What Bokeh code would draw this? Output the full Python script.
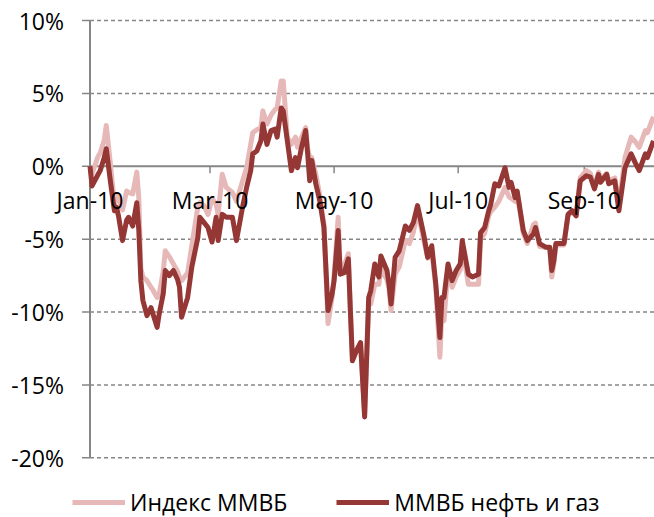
import math
import pandas as pd
from bokeh.plotting import figure
from bokeh.models import Range1d, Legend, LegendItem, ColumnDataSource
from bokeh.core.properties import value
from bokeh.embed import file_html
from bokeh.resources import INLINE

dates = ["2010-01-01","2010-01-02","2010-01-05","2010-01-06","2010-01-08","2010-01-09","2010-01-11",
 "2010-01-13","2010-01-14","2010-01-15","2010-01-17","2010-01-19","2010-01-20","2010-01-22","2010-01-24",
 "2010-01-25","2010-01-26","2010-01-27","2010-01-29","2010-01-31","2010-02-01","2010-02-03","2010-02-04",
 "2010-02-06","2010-02-07","2010-02-09","2010-02-11","2010-02-13","2010-02-14","2010-02-15","2010-02-18",
 "2010-02-20","2010-02-23","2010-02-24","2010-02-26","2010-02-28","2010-03-02","2010-03-04","2010-03-05",
 "2010-03-07","2010-03-09","2010-03-12","2010-03-14","2010-03-17","2010-03-19","2010-03-21","2010-03-22",
 "2010-03-24","2010-03-26","2010-03-27","2010-03-29","2010-03-31","2010-04-02","2010-04-03","2010-04-05",
 "2010-04-06","2010-04-08","2010-04-10","2010-04-12","2010-04-13","2010-04-15","2010-04-17","2010-04-18",
 "2010-04-19","2010-04-20","2010-04-22","2010-04-24","2010-04-26","2010-04-28","2010-04-30","2010-05-01",
 "2010-05-03","2010-05-04","2010-05-06","2010-05-08","2010-05-09","2010-05-10","2010-05-12","2010-05-14",
 "2010-05-16","2010-05-18","2010-05-19","2010-05-21","2010-05-23","2010-05-24","2010-05-27","2010-05-28",
 "2010-05-29","2010-05-31","2010-06-02","2010-06-05","2010-06-07","2010-06-09","2010-06-11","2010-06-14",
 "2010-06-16","2010-06-18","2010-06-20","2010-06-22","2010-06-23","2010-06-24","2010-06-26","2010-06-28",
 "2010-06-30","2010-07-02","2010-07-03","2010-07-06","2010-07-08","2010-07-11","2010-07-12","2010-07-14",
 "2010-07-16","2010-07-17","2010-07-19","2010-07-21","2010-07-24","2010-07-26","2010-07-27","2010-07-29",
 "2010-07-30","2010-08-02","2010-08-04","2010-08-07","2010-08-08","2010-08-10","2010-08-13","2010-08-15",
 "2010-08-16","2010-08-17","2010-08-18","2010-08-22","2010-08-24","2010-08-26","2010-08-28","2010-08-30",
 "2010-09-02","2010-09-04","2010-09-06","2010-09-08","2010-09-09","2010-09-12","2010-09-13","2010-09-16",
 "2010-09-18","2010-09-21","2010-09-24","2010-09-26","2010-09-28","2010-10-01","2010-10-02","2010-10-05"]

oil_gas = [0.0,-1.35,-0.55,-0.3,0.6,1.2,-1.0,
 -3.05,-2.8,-3.4,-5.1,-3.7,-3.5,-4.1,-2.5,
 -4.4,-7.85,-9.2,-10.25,-9.7,-10.15,-11.05,-10.15,
 -8.75,-7.15,-7.5,-7.15,-7.75,-8.3,-10.35,-9.0,
 -6.95,-4.9,-3.5,-3.85,-4.2,-5.2,-3.5,-5.1,
 -3.3,-3.5,-3.5,-5.1,-2.8,-1.45,-0.3,0.85,
 1.05,1.75,2.9,1.5,2.45,2.55,2.0,4.0,
 3.8,1.75,-0.3,0.6,-0.1,1.3,2.45,0.85,
 -1.0,0.4,-1.2,-2.4,-4.2,-9.9,-8.75,-7.85,
 -4.4,-7.4,-7.3,-6.35,-9.9,-13.35,-12.65,-12.1,
 -17.2,-9.0,-8.55,-6.7,-7.6,-6.15,-7.15,-8.1,
 -9.45,-6.25,-5.8,-4.1,-4.4,-3.85,-2.7,-4.65,
 -6.25,-5.45,-8.1,-11.75,-9.0,-9.0,-6.7,-7.85,
 -7.15,-6.7,-5.1,-7.4,-7.6,-7.4,-4.55,-4.2,
 -3.05,-2.6,-1.2,-1.35,-0.1,-1.45,-1.1,-2.15,
 -1.7,-4.4,-5.1,-4.65,-4.2,-5.3,-5.55,-5.55,
 -7.15,-6.5,-5.3,-5.3,-3.3,-3.05,-3.4,-1.0,
 -0.65,-0.75,-1.55,-0.55,-1.1,-0.55,-1.2,-1.0,
 -3.05,-0.1,0.85,0.25,-0.3,0.85,0.6,1.75]

mmvb = [-0.3,-0.5,0.7,0.9,1.8,2.8,0.2,
 -2.6,-2.0,-2.2,-3.0,-1.7,-1.8,-1.9,-0.4,
 -2.2,-7.0,-7.6,-7.85,-8.3,-8.5,-9.0,-8.8,
 -7.2,-5.8,-6.2,-6.7,-7.2,-7.6,-7.85,-7.3,
 -5.5,-2.8,-2.5,-2.7,-3.3,-2.2,-2.6,-3.3,
 -0.55,-1.45,-1.8,-2.4,-1.0,-0.1,1.5,2.3,
 2.5,2.65,3.8,2.9,3.5,3.9,4.0,5.85,
 5.85,2.0,1.5,2.0,1.3,2.0,2.65,1.2,
 0.6,0.6,-0.55,-2.0,-4.0,-10.8,-9.0,-7.5,
 -3.5,-7.0,-6.8,-6.0,-9.9,-13.2,-12.6,-12.1,
 -17.0,-9.5,-9.45,-8.1,-8.1,-7.0,-7.8,-8.4,
 -9.9,-7.4,-6.9,-5.1,-5.3,-4.5,-3.1,-5.0,
 -6.3,-5.8,-8.3,-13.1,-9.9,-10.6,-7.0,-8.3,
 -7.6,-7.1,-5.5,-8.1,-8.1,-8.1,-5.0,-4.6,
 -3.4,-3.1,-2.8,-2.4,-1.45,-2.1,-2.2,-2.4,
 -1.9,-4.6,-5.3,-4.0,-3.9,-5.5,-5.55,-5.6,
 -7.6,-6.7,-5.4,-5.4,-3.4,-3.1,-3.4,-0.8,
 -0.3,-0.5,-1.4,-0.4,-0.9,-0.5,-1.0,-0.8,
 -2.7,0.6,2.0,1.7,1.3,2.45,2.3,3.4]

tick_dates = ["2010-01-01", "2010-03-01", "2010-05-01", "2010-07-01", "2010-09-01"]
tick_labels = ["Jan-10", "Mar-10", "May-10", "Jul-10", "Sep-10"]
y_ticks = [-20, -15, -10, -5, 0, 5, 10]
y_tick_labels = ["-20%", "-15%", "-10%", "-5%", "0%", "5%", "10%"]
series_names = ["Индекс ММВБ", "ММВБ нефть и газ"]

PINK = "#E6B9B8"
DARK = "#953735"
GRAY = "#868686"
FONT = "Open Sans"

# axis extent (plot area) and the outer view around it
x_start = pd.Timestamp("2010-01-01")
x_end = pd.Timestamp("2010-10-05 12:00")
px_per_day = (654 - 89.5) / ((x_end - x_start) / pd.Timedelta(days=1))
view_x0 = x_start - pd.Timedelta(days=89.5 / px_per_day)
px_per_pct = (457.3 - 20) / 30.0
view_y1 = 10 + 20 / px_per_pct
view_y0 = -20 - (517 - 457.3) / px_per_pct

src = ColumnDataSource(dict(date=pd.to_datetime(dates), mmvb=mmvb, oil=oil_gas))
xt = ColumnDataSource(dict(date=pd.to_datetime(tick_dates), y=[0] * len(tick_dates), label=tick_labels))
grid_y = [t for t in y_ticks if t != 0]
gsrc = ColumnDataSource(dict(x0=[x_start] * len(grid_y), x1=[x_end] * len(grid_y), y=grid_y))
ysrc = ColumnDataSource(dict(x=[x_start] * len(y_ticks), y=y_ticks, label=y_tick_labels))

p = figure(width=654, height=517, output_backend="svg", toolbar_location=None,
           x_axis_type="datetime",
           x_range=Range1d(view_x0, x_end), y_range=Range1d(view_y0, view_y1),
           min_border=0)
p.outline_line_color = None
p.xaxis.visible = False
p.yaxis.visible = False
p.grid.visible = False

# dashed gridlines
p.segment(x0="x0", y0="y", x1="x1", y1="y", source=gsrc, line_color=GRAY,
          line_width=1.5, line_dash="4 3")
# zero line (horizontal axis)
p.segment(x0=[x_start], y0=[0], x1=[x_end], y1=[0], line_color=GRAY, line_width=2)
# vertical axis line
p.segment(x0=[x_start], y0=[y_ticks[0]], x1=[x_start], y1=[y_ticks[-1]], line_color=GRAY, line_width=2)
# y tick marks
p.ray(x="x", y="y", source=ysrc, length=8, length_units="screen", angle=math.pi,
      line_color=GRAY, line_width=1.5)
# x tick marks
p.ray(x="date", y="y", source=xt, length=7, length_units="screen", angle=-math.pi / 2,
      line_color=GRAY, line_width=1.5)
# y tick labels
p.text(x="x", y="y", text="label", source=ysrc, x_offset=-26, text_align="right",
       text_baseline="middle", text_font=value(FONT), text_font_size="23px", text_color="#000000")

r_pink = p.line("date", "mmvb", source=src, line_color=PINK, line_width=5, line_join="round")
r_dark = p.line("date", "oil", source=src, line_color=DARK, line_width=5, line_join="round")

# x tick labels (drawn over the series, as in the reference)
p.text(x="date", y="y", text="label", source=xt, y_offset=34, text_align="center",
       text_baseline="middle", text_font=value(FONT), text_font_size="23px", text_color="#000000")

legend = Legend(items=[LegendItem(label=series_names[0], renderers=[r_pink]),
                       LegendItem(label=series_names[1], renderers=[r_dark])],
                orientation="horizontal", location=(72, -1),
                glyph_width=53, glyph_height=20, label_standoff=5, spacing=49,
                padding=0, margin=0, border_line_color=None, background_fill_alpha=0,
                label_text_font=FONT, label_text_font_size="23px", label_text_color="#000000")
p.add_layout(legend)

open("out.html", "w").write(file_html(p, INLINE))
